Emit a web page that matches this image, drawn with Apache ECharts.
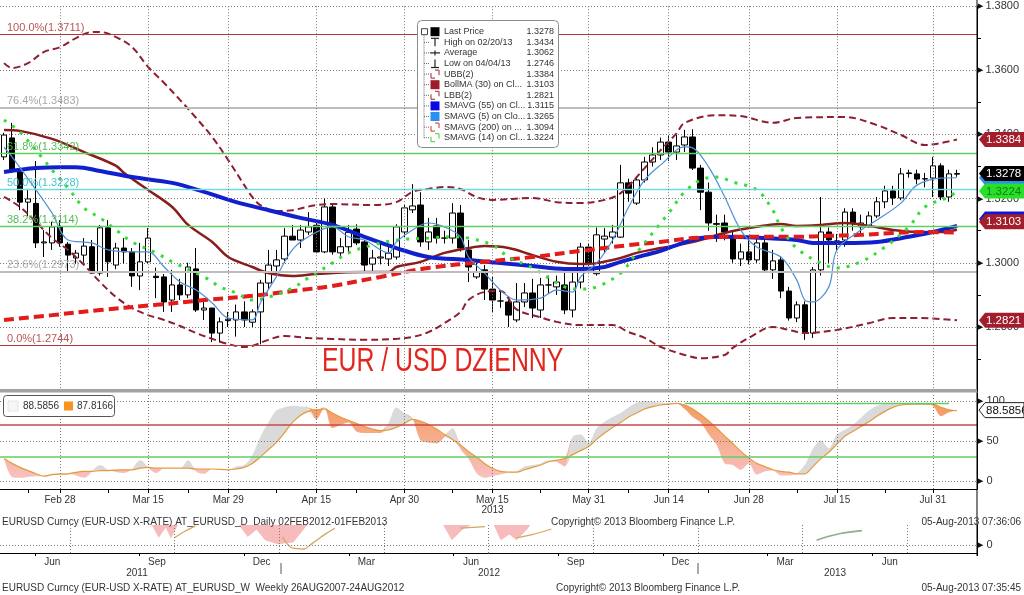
<!DOCTYPE html>
<html>
<head>
<meta charset="utf-8">
<title>EUR / USD DZIENNY</title>
<script src="https://cdn.jsdelivr.net/npm/echarts@6/dist/echarts.min.js"></script>
<style>
html,body{margin:0;padding:0;background:#ffffff;}
#chart{width:1024px;height:595px;}
</style>
</head>
<body>
<div id="chart"></div>
<script>
const FONT = "'Liberation Sans', Arial, 'DejaVu Sans', sans-serif";
const MONTHS = ['Jan','Feb','Mar','Apr','May','Jun','Jul','Aug','Sep','Oct','Nov','Dec'];

// ---------- categories: trading days (plus two empty slots on the right) ----------
const dayCategories = [];
(function () {
  const d = new Date(Date.UTC(2013, 1, 19));
  while (dayCategories.length < 122) {
    const wd = d.getUTCDay();
    if (wd !== 0 && wd !== 6) dayCategories.push(d.toISOString().slice(0, 10));
    d.setUTCDate(d.getUTCDate() + 1);
  }
})();
const xLabelDates = ['2013-02-28','2013-03-15','2013-03-29','2013-04-15','2013-04-30','2013-05-15','2013-05-31','2013-06-14','2013-06-28','2013-07-15','2013-07-31'];
const xMidTickDates = ['2013-02-22','2013-03-08','2013-03-22','2013-04-08','2013-04-22','2013-05-08','2013-05-23','2013-06-07','2013-06-21','2013-07-08','2013-07-23'];
const yearUnderDate = '2013-05-15';
const yearUnderText = '2013';

// ---------- daily price: [open, close, low, high] ----------
const priceOHLC = [
[1.3330,1.3398,1.3320,1.3405],[1.3389,1.3289,1.3280,1.3436],[1.3283,1.3189,1.3164,1.3290],[1.3189,1.3199,1.3145,1.3230],
[1.3185,1.3062,1.3046,1.3317],[1.3062,1.3065,1.3018,1.3102],[1.3062,1.3112,1.3040,1.3127],[1.3112,1.3062,1.3050,1.3133],
[1.3058,1.3024,1.2970,1.3065],[1.3015,1.3030,1.2998,1.3040],[1.3024,1.3052,1.3000,1.3077],[1.3050,1.2968,1.2965,1.3071],
[1.2968,1.3109,1.2960,1.3118],[1.3109,1.3003,1.2956,1.3133],[1.2993,1.3046,1.2980,1.3062],[1.3046,1.3034,1.2998,1.3077],
[1.3034,1.2959,1.2925,1.3046],[1.2959,1.3003,1.2915,1.3062],[1.3003,1.3077,1.2999,1.3108],[1.2958,1.2954,1.2890,1.2985],
[1.2956,1.2878,1.2847,1.2965],[1.2884,1.2931,1.2847,1.2978],[1.2931,1.2900,1.2884,1.2950],[1.2900,1.2987,1.2890,1.3000],
[1.2981,1.2853,1.2847,1.3046],[1.2853,1.2859,1.2822,1.2890],[1.2859,1.2781,1.2753,1.2860],[1.2781,1.2816,1.2752,1.2830],
[1.2820,1.2824,1.2800,1.2847],[1.2822,1.2847,1.2770,1.2870],[1.2847,1.2822,1.2800,1.2880],[1.2815,1.2847,1.2800,1.2855],
[1.2847,1.2937,1.2746,1.2947],[1.2937,1.2993,1.2915,1.3040],[1.2990,1.3009,1.2970,1.3040],[1.3012,1.3083,1.3000,1.3108],
[1.3083,1.3071,1.3071,1.3118],[1.3071,1.3102,1.3046,1.3118],[1.3096,1.3112,1.3087,1.3158],[1.3117,1.3034,1.3030,1.3133],
[1.3034,1.3174,1.3030,1.3200],[1.3174,1.3034,1.3025,1.3180],[1.3031,1.3050,1.3015,1.3077],[1.3050,1.3095,1.3028,1.3118],
[1.3105,1.3062,1.3055,1.3120],[1.3065,1.2993,1.2970,1.3071],[1.2996,1.3015,1.2975,1.3040],[1.3015,1.3018,1.2995,1.3062],
[1.3012,1.3030,1.2990,1.3050],[1.3018,1.3112,1.3010,1.3120],[1.3096,1.3171,1.3080,1.3180],[1.3165,1.3177,1.3155,1.3245],
[1.3180,1.3065,1.3050,1.3220],[1.3065,1.3096,1.3040,1.3140],[1.3115,1.3077,1.3060,1.3140],[1.3077,1.3077,1.3060,1.3100],
[1.3077,1.3155,1.3060,1.3186],[1.3155,1.3046,1.3035,1.3180],[1.3040,1.2987,1.2940,1.3071],[1.2956,1.2971,1.2950,1.3000],
[1.2978,1.2918,1.2884,1.2993],[1.2918,1.2884,1.2847,1.2956],[1.2881,1.2881,1.2860,1.2910],[1.2878,1.2837,1.2800,1.2893],
[1.2822,1.2878,1.2815,1.2937],[1.2878,1.2906,1.2862,1.2937],[1.2906,1.2859,1.2828,1.2950],[1.2853,1.2931,1.2828,1.2953],
[1.2931,1.2931,1.2905,1.2960],[1.2925,1.2940,1.2900,1.2960],[1.2931,1.2853,1.2840,1.2978],[1.2853,1.2940,1.2830,1.2975],
[1.2940,1.3049,1.2920,1.3062],[1.3049,1.2999,1.2990,1.3060],[1.2966,1.3087,1.2960,1.3110],[1.3074,1.3083,1.3030,1.3108],
[1.3080,1.3096,1.3060,1.3118],[1.3080,1.3249,1.3078,1.3305],[1.3249,1.3217,1.3190,1.3262],[1.3186,1.3258,1.3180,1.3270],
[1.3258,1.3314,1.3250,1.3330],[1.3314,1.3336,1.3300,1.3360],[1.3336,1.3376,1.3320,1.3390],[1.3376,1.3345,1.3317,1.3398],
[1.3345,1.3364,1.3320,1.3398],[1.3367,1.3392,1.3345,1.3414],[1.3392,1.3295,1.3289,1.3416],[1.3295,1.3220,1.3164,1.3305],
[1.3220,1.3124,1.3100,1.3250],[1.3122,1.3120,1.3065,1.3150],[1.3124,1.3096,1.3070,1.3150],[1.3077,1.3012,1.3000,1.3100],
[1.3012,1.3034,1.2990,1.3060],[1.3034,1.3009,1.2995,1.3080],[1.3009,1.3062,1.3000,1.3080],[1.3062,1.2978,1.2970,1.3080],
[1.2978,1.3006,1.2950,1.3040],[1.3009,1.2912,1.2890,1.3020],[1.2912,1.2828,1.2820,1.2925],[1.2828,1.2869,1.2815,1.2880],
[1.2869,1.2781,1.2760,1.2880],[1.2781,1.2978,1.2766,1.2987],[1.2978,1.3096,1.2960,1.3205],[1.3096,1.3071,1.3000,1.3110],
[1.3068,1.3068,1.3040,1.3090],[1.3071,1.3158,1.3050,1.3170],[1.3158,1.3124,1.3100,1.3170],[1.3112,1.3124,1.3090,1.3150],
[1.3112,1.3146,1.3110,1.3160],[1.3146,1.3190,1.3140,1.3205],[1.3190,1.3224,1.3170,1.3240],[1.3224,1.3202,1.3180,1.3240],
[1.3202,1.3277,1.3195,1.3295],[1.3280,1.3278,1.3265,1.3290],[1.3277,1.3261,1.3245,1.3290],[1.3261,1.3262,1.3235,1.3280],
[1.3264,1.3302,1.3205,1.3330],[1.3302,1.3205,1.3195,1.3310],[1.3205,1.3277,1.3190,1.3290],[1.3276,1.3278,1.3268,1.3290]
];

// ---------- studies: [dayIndex, value] ----------
const ubb = [[0,1.3622],[1,1.3607],[3,1.3622],[5,1.3657],[7,1.3672],[9,1.3700],[11,1.3719],[12,1.3719],[14,1.3703],[16,1.3672],[18,1.3610],[20,1.3560],[22,1.3507],[24,1.3451],[26,1.3392],[28,1.3320],[30,1.3242],[31,1.3205],[32,1.3180],[34,1.3161],[36,1.3164],[39,1.3180],[41,1.3183],[46,1.3180],[49,1.3189],[51,1.3221],[53,1.3230],[55,1.3236],[57,1.3230],[59,1.3205],[61,1.3196],[66,1.3202],[69,1.3189],[72,1.3186],[75,1.3196],[77,1.3217],[80,1.3295],[82,1.3351],[84,1.3404],[85,1.3436],[89,1.3460],[92,1.3457],[96,1.3436],[99,1.3451],[105,1.3454],[109,1.3429],[112,1.3398],[115,1.3367],[117,1.3373],[119,1.3384]];
const lbb = [[0,1.3205],[2,1.3174],[4,1.3127],[6,1.3077],[8,1.3040],[10,1.2993],[12,1.2940],[14,1.2893],[16,1.2859],[18,1.2837],[20,1.2822],[22,1.2803],[24,1.2781],[26,1.2763],[28,1.2747],[30,1.2738],[31,1.2741],[33,1.2760],[35,1.2772],[38,1.2766],[41,1.2763],[45,1.2760],[49,1.2763],[51,1.2769],[53,1.2784],[55,1.2812],[57,1.2847],[58,1.2884],[60,1.2909],[62,1.2912],[64,1.2855],[67,1.2830],[69,1.2816],[72,1.2806],[76,1.2806],[78,1.2784],[80,1.2766],[82,1.2738],[85,1.2713],[87,1.2703],[90,1.2713],[91,1.2735],[93,1.2766],[96,1.2800],[98,1.2791],[100,1.2781],[104,1.2791],[108,1.2812],[111,1.2828],[114,1.2828],[119,1.2821]];
const bollMA = [[0,1.3414],[2,1.3411],[6,1.3386],[10,1.3345],[14,1.3302],[15,1.3280],[18,1.3227],[21,1.3174],[23,1.3118],[26,1.3065],[28,1.3018],[31,1.2987],[33,1.2968],[36,1.2959],[39,1.2965],[45,1.2971],[48,1.2971],[49,1.2987],[52,1.3003],[55,1.3031],[58,1.3046],[60,1.3052],[63,1.3046],[66,1.3024],[69,1.3003],[72,1.2996],[74,1.2999],[77,1.3015],[79,1.3031],[82,1.3046],[86,1.3065],[90,1.3093],[94,1.3112],[97,1.3121],[99,1.3115],[102,1.3118],[105,1.3124],[108,1.3115],[111,1.3102],[114,1.3096],[117,1.3096],[119,1.3103]];
const sma55 = [[0,1.3283],[4,1.3295],[7,1.3298],[9,1.3298],[12,1.3286],[16,1.3267],[21,1.3249],[25,1.3221],[29,1.3189],[33,1.3164],[37,1.3140],[41,1.3118],[45,1.3081],[49,1.3046],[53,1.3018],[58,1.3009],[62,1.2999],[66,1.2990],[70,1.2981],[72,1.2981],[75,1.2987],[77,1.3003],[80,1.3024],[82,1.3037],[84,1.3055],[87,1.3077],[90,1.3081],[95,1.3077],[99,1.3071],[101,1.3062],[105,1.3062],[109,1.3065],[113,1.3081],[116,1.3096],[119,1.3115]];
const sma200 = [[0,1.2822],[6,1.2837],[12,1.2853],[19,1.2869],[25,1.2884],[31,1.2897],[37,1.2915],[41,1.2928],[47,1.2956],[53,1.2984],[60,1.3003],[66,1.3018],[72,1.3037],[78,1.3055],[82,1.3065],[86,1.3077],[92,1.3081],[99,1.3081],[103,1.3084],[107,1.3087],[111,1.3093],[115,1.3096],[119,1.3094]];
const sma14 = [[0,1.3445],[2,1.3407],[5,1.3320],[6,1.3289],[8,1.3233],[10,1.3171],[12,1.3140],[14,1.3102],[16,1.3065],[19,1.3031],[21,1.3003],[25,1.2956],[27,1.2925],[29,1.2906],[31,1.2884],[33,1.2893],[36,1.2921],[38,1.2953],[41,1.2999],[43,1.3031],[46,1.3055],[49,1.3071],[53,1.3077],[56,1.3081],[58,1.3077],[61,1.3055],[63,1.3018],[66,1.2984],[68,1.2953],[70,1.2925],[72,1.2918],[74,1.2925],[77,1.2968],[79,1.3031],[82,1.3124],[83,1.3155],[85,1.3221],[87,1.3258],[89,1.3267],[91,1.3252],[94,1.3227],[96,1.3164],[97,1.3110],[99,1.3045],[102,1.2999],[104,1.2984],[107,1.3003],[110,1.3049],[113,1.3112],[115,1.3174],[118,1.3205],[119,1.3224]];
const sma5 = [[0,1.3360],[1,1.3330],[4,1.3227],[6,1.3155],[8,1.3071],[11,1.3062],[13,1.3040],[16,1.3034],[18,1.3034],[20,1.2987],[22,1.2940],[24,1.2915],[26,1.2875],[28,1.2828],[31,1.2822],[32,1.2875],[34,1.2956],[36,1.3040],[38,1.3081],[41,1.3112],[43,1.3081],[45,1.3071],[48,1.3031],[49,1.3065],[51,1.3102],[53,1.3124],[55,1.3112],[57,1.3081],[58,1.3018],[60,1.2968],[62,1.2915],[64,1.2884],[67,1.2890],[69,1.2915],[71,1.2909],[72,1.2956],[74,1.2999],[76,1.3071],[78,1.3174],[80,1.3258],[82,1.3305],[85,1.3361],[86,1.3358],[88,1.3298],[90,1.3205],[92,1.3102],[94,1.3049],[97,1.3018],[99,1.2946],[100,1.2884],[101,1.2878],[103,1.2925],[104,1.3040],[107,1.3102],[109,1.3133],[112,1.3186],[114,1.3242],[117,1.3264],[119,1.3265]];

// ---------- fibonacci retracement ----------
const fibLevels = [1.3711, 1.3483, 1.3342, 1.3228, 1.3114, 1.2973, 1.2744];
const fibPercents = ['100.0%','76.4%','61.8%','50.0%','38.2%','23.6%','0.0%'];
const fibLineColors = ['#b33a3a','#bdbdbd','#5fcf5f','#6fdcdc','#5fcf5f','#bdbdbd','#b33a3a'];
const fibTextColors = ['#b85555','#a8a8a8','#55bb55','#44c4d0','#55bb55','#a8a8a8','#b85555'];
const fibWidths = [1, 2, 1.3, 1.3, 1.3, 2, 1];

// ---------- stochastic (lower panel) ----------
const stochIdx = [0,1,2,3,4,5,6,8,10,11,12,13,15,16,17,18,19,20,22,23,24,25,26,28,29,30,31,32,33,34,35,36,37,38,39,40,41,42,43,44,45,46,47,48,49,50,51,52,53,54,55,56,57,58,59,60,61,62,63,64,65,66,67,68,69,70,71,72,73,74,75,76,77,78,79,80,81,82,83,84,85,86,87,88,89,90,91,92,93,94,95,96,97,98,99,100,101,102,103,104,105,106,107,108,109,110,111,112,113,114,115,116,117,118,119];
const stochSlow = [28,22,17,13,9,6,8,9,12,12,13,13,14,14,16,17,16,16,16,16,15,15,15,14,15,17,22,30,39,48,60,73,82,87,89,90,85,80,76,72,68,65,63,64,67,72,77,75,71,65,58,52,45,37,30,22,16,12,11,11,14,17,20,24,26,28,33,38,43,52,60,67,73,80,85,90,93,95,96,97,95,90,83,75,66,56,47,37,29,22,18,14,12,11,9,9,18,28,36,46,56,62,68,74,81,87,92,95,96,96,96,96,92,89,87.8166];
const stochFast = [28,5,4,5,6,6,9,10,4,12,20,14,10,15,26,17,10,16,16,26,12,9,15,14,18,20,32,55,73,88,92,94,93,92,77,92,66,70,73,62,60,60,60,72,92,85,78,51,48,47,55,66,40,28,10,4,6,8,11,12,18,20,22,26,24,18,55,58,48,66,74,80,85,92,98,100,99,98,97,97,90,80,73,58,45,22,20,14,22,8,12,13,7,7,9,20,40,51,41,58,64,70,79,88,94,96,96,96,96,97,96,94,81,86,88.5856];
const stochUpperLevel = 70, stochLowerLevel = 30;
const stochTopLineValue = 96.7, stochTopLineFrom = '2013-06-18', stochTopLineTo = '2013-08-02';

// ---------- weekly chart remnant (bottom strip) ----------
const weeklyMonths = [];
(function () { let y = 2011, m = 5; while (weeklyMonths.length < 28) { weeklyMonths.push(y + '-' + String(m).padStart(2, '0')); m++; if (m > 12) { m = 1; y++; } } })();
const weeklyQuarterStarts = [2, 5, 8, 11, 14, 17, 20, 23, 26];   // months since May 2011
const weeklyPink = [
  [[4.35,25],[4.55,9],[4.75,22],[4.9,8],[5.1,25]],
  [[6.85,25],[7.1,10],[7.35,19],[7.6,6],[7.95,1],[8.4,3],[8.7,19],[8.8,25]],
  [[12.7,25],[12.95,6],[13.25,19],[13.5,25]],
  [[14.15,25],[14.35,6],[14.6,13],[14.8,6],[15.1,19],[15.2,25]]
];
const weeklyOlive = [
  [[5.0,9],[5.25,16],[5.6,24]],
  [[8.1,10],[8.4,-4],[8.7,-5],[8.95,2],[9.3,13],[9.6,21]],
  [[13.2,21],[13.9,23]],
  [[14.8,9],[15.25,13],[15.8,20]]
];
const weeklyGreen = [[23.4,6],[24.05,14],[24.7,18]];
const weeklyYears = ['2011','2012','2013'];

// ---------- legend / tags ----------
const legendNames = ['Last Price','High on 02/20/13','Average','Low on 04/04/13','UBB(2)','BollMA (30) on Cl...','LBB(2)','SMAVG (55) on Cl...','SMAVG (5) on Clo...','SMAVG (200) on ...','SMAVG (14) on Cl...'];
const legendValues = ['1.3278','1.3434','1.3062','1.2746','1.3384','1.3103','1.2821','1.3115','1.3265','1.3094','1.3224'];
const legendIcons = ['fill:#000000','high','avg','low','bracket:#a3202e','fill:#a01c28','bracket:#a3202e','fill:#0a0ae6','fill:#2b8ff0','bracket:#d23030','bracket:#3fcf3f'];
const tagValues = [1.3384, 1.3265, 1.3224, 1.3278, 1.3115, 1.3103, 1.2821];
const tagFills = ['#a31e2c','#2b8ff0','#27e027','#000000','#1414d8','#a31e2c','#a31e2c'];
const tagTextColors = ['#ffffff','#ffffff','#157a15','#ffffff','#ffffff','#ffffff','#ffffff'];
const tagShift = [0, 0, 0, 0, -7, -8, 0];
const stochTagValue = 88.5856;
const stochLegend = ['88.5856', '87.8166'];

// ---------- helpers ----------
const labelSet = new Set(xLabelDates);
const tickSet = new Set(xLabelDates.concat(xMidTickDates));
function fmtDay(v) {
  const s = MONTHS[+v.slice(5, 7) - 1] + ' ' + (+v.slice(8, 10));
  return v === yearUnderDate ? s + '\n' + yearUnderText : s;
}
const dotted = { type: [1, 2], color: '#777', width: 1 };
const vGrid = xLabelDates.map(d => ({ xAxis: d, lineStyle: dotted, label: { show: false } }));

const fibMarks = fibLevels.map((v, k) => ({
  yAxis: v,
  lineStyle: { color: fibLineColors[k], width: fibWidths[k], type: 'solid' },
  label: { show: true, position: 'insideStartTop', distance: [7, 1], formatter: fibPercents[k] + '(' + v.toFixed(4) + ')', color: fibTextColors[k], fontSize: 11, fontFamily: FONT }
}));

const stochBase = stochIdx.map((x, k) => [x, Math.min(stochFast[k], stochSlow[k])]);
const stochUp = stochIdx.map((x, k) => [x, Math.max(stochFast[k] - stochSlow[k], 0)]);
const stochDown = stochIdx.map((x, k) => [x, Math.max(stochSlow[k] - stochFast[k], 0)]);

function lineSeries(name, data, style, z) {
  return { name, type: 'line', xAxisIndex: 0, yAxisIndex: 0, data, symbol: 'none', smooth: 0.35, silent: true, z: z || 3, lineStyle: style };
}

const GL = -3.3, GW = 980.3;
const axisBlack = { show: true, onZero: false, lineStyle: { color: '#000', width: 1 } };

const option = {
  animation: false,
  backgroundColor: '#ffffff',
  textStyle: { fontFamily: FONT },
  grid: [
    { left: GL, width: GW, top: 6, height: 385.2 },
    { left: GL, width: GW, top: 393, height: 96 },
    { left: -3.5, width: 980.5, top: 525, height: 28 }
  ],
  xAxis: [
    { type: 'category', gridIndex: 0, data: dayCategories, boundaryGap: true, axisLine: { show: false, onZero: false }, axisTick: { show: false }, axisLabel: { show: false }, splitLine: { show: false } },
    { type: 'category', gridIndex: 1, data: dayCategories, boundaryGap: true,
      axisLine: axisBlack,
      axisTick: { show: true, alignWithLabel: true, length: 4, interval: (i, v) => tickSet.has(v), lineStyle: { color: '#000' } },
      axisLabel: { interval: (i, v) => labelSet.has(v), formatter: fmtDay, fontSize: 10, color: '#333', margin: 6, lineHeight: 10 },
      splitLine: { show: false } },
    { type: 'category', gridIndex: 2, data: weeklyMonths, boundaryGap: true,
      axisLine: axisBlack,
      axisTick: { show: true, length: 3, lineStyle: { color: '#000' } },
      axisLabel: { interval: (i, v) => [3, 6, 9, 12].indexOf(+v.slice(5, 7)) >= 0, formatter: v => MONTHS[+v.slice(5, 7) - 1], fontSize: 10, color: '#333', margin: 4 },
      splitLine: { show: false } },
    { type: 'value', gridIndex: 2, min: 0, max: 28, show: false, axisLine: { show: false, onZero: false } }
  ],
  yAxis: [
    { type: 'value', gridIndex: 0, position: 'right', min: 1.26, max: 1.38, interval: 0.02,
      axisLine: axisBlack,
      axisTick: { show: false },
      minorTick: { show: true, splitNumber: 2, length: 4, lineStyle: { color: '#000' } },
      axisLabel: { margin: 1, fontSize: 11, color: '#333', formatter: v => (v < 1.27 ? '' : '{t|▶}' + v.toFixed(4)), rich: { t: { fontSize: 7, color: '#111', padding: [0, 2, 0, 0] } } },
      splitLine: { show: true, lineStyle: dotted } },
    { type: 'value', gridIndex: 1, position: 'right', min: -10, max: 110, interval: 10,
      axisLine: axisBlack,
      axisTick: { show: false },
      axisLabel: { margin: 1, fontSize: 11, color: '#333', formatter: v => ((v === 0 || v === 50 || v === 100) ? '{t|▶} ' + v : ''), rich: { t: { fontSize: 7, color: '#111' } } },
      splitLine: { show: false } },
    { type: 'value', gridIndex: 2, position: 'right', min: -10, max: 25, interval: 5,
      axisLine: axisBlack,
      axisTick: { show: false },
      axisLabel: { margin: 1, fontSize: 11, color: '#333', formatter: v => (v === 0 ? '{t|▶} 0' : ''), rich: { t: { fontSize: 7, color: '#111' } } },
      splitLine: { show: false } }
  ],
  series: [
    { name: 'marks0', type: 'line', xAxisIndex: 0, yAxisIndex: 0, data: [], z: 1, silent: true,
      markLine: { symbol: 'none', silent: true, animation: false, precision: 6, data: fibMarks.concat(vGrid) } },
    { name: 'Last Price', type: 'candlestick', xAxisIndex: 0, yAxisIndex: 0, data: priceOHLC, barWidth: 6, z: 2, silent: true,
      itemStyle: { color: '#ffffff', color0: '#000000', borderColor: '#000000', borderColor0: '#000000', borderWidth: 1 } },
    lineSeries('BollMA (30)', bollMA, { color: '#8a1c1c', width: 2.5 }),
    lineSeries('UBB(2)', ubb, { color: '#8d1f32', width: 2, type: [7, 4] }),
    lineSeries('LBB(2)', lbb, { color: '#8d1f32', width: 2, type: [7, 4] }),
    lineSeries('SMAVG (55)', sma55, { color: '#1020cc', width: 4 }),
    lineSeries('SMAVG (200)', sma200, { color: '#e21b1b', width: 4, type: [10, 5] }),
    lineSeries('SMAVG (14)', sma14, { color: '#33dd33', width: 3, type: [3, 7] }),
    lineSeries('SMAVG (5)', sma5, { color: '#4f8fd6', width: 1.2 }),

    { name: 'stBase', type: 'line', xAxisIndex: 1, yAxisIndex: 1, data: stochBase, stack: 'st', symbol: 'none', smooth: 0.3, silent: true, z: 1, lineStyle: { opacity: 0 } },
    { name: 'stUp', type: 'line', xAxisIndex: 1, yAxisIndex: 1, data: stochUp, stack: 'st', symbol: 'none', smooth: 0.3, silent: true, z: 1, lineStyle: { opacity: 0 }, areaStyle: { color: '#dadada', opacity: 1 } },
    { name: 'stDown', type: 'line', xAxisIndex: 1, yAxisIndex: 1, data: stochDown, stack: 'st', symbol: 'none', smooth: 0.3, silent: true, z: 1, lineStyle: { opacity: 0 },
      areaStyle: { opacity: 1, color: new echarts.graphic.LinearGradient(0, 0, 0, 1, [{ offset: 0, color: '#f49a5e' }, { offset: 1, color: '#f8c0c0' }]) } },
    { name: 'marks1', type: 'line', xAxisIndex: 1, yAxisIndex: 1, data: [], z: 2, silent: true,
      markLine: { symbol: 'none', silent: true, animation: false, precision: 4, label: { show: false },
        data: [
          { yAxis: 0, lineStyle: dotted }, { yAxis: 50, lineStyle: dotted }, { yAxis: 100, lineStyle: dotted },
          { yAxis: stochUpperLevel, lineStyle: { color: '#c84848', width: 1.6, type: 'solid' } },
          { yAxis: stochLowerLevel, lineStyle: { color: '#66cc66', width: 1.6, type: 'solid' } },
          [{ coord: [stochTopLineFrom, stochTopLineValue], lineStyle: { color: '#66cc66', width: 1.4, type: 'solid' } }, { coord: [stochTopLineTo, stochTopLineValue] }]
        ].concat(vGrid) } },
    { name: 'Slow', type: 'line', xAxisIndex: 1, yAxisIndex: 1, data: stochIdx.map((x, k) => [x, stochSlow[k]]), symbol: 'none', smooth: 0.3, silent: true, z: 3, lineStyle: { color: '#e59a3c', width: 1.2 } },

    { name: 'marks2', type: 'line', xAxisIndex: 3, yAxisIndex: 2, data: [], z: 1, silent: true,
      markLine: { symbol: 'none', silent: true, animation: false, precision: 4, label: { show: false },
        data: [{ yAxis: 0, lineStyle: dotted }].concat(weeklyQuarterStarts.map(m => ({ xAxis: m, lineStyle: dotted }))) } }
  ]
};

weeklyPink.forEach((d, k) => option.series.push({ name: 'wp' + k, type: 'line', xAxisIndex: 3, yAxisIndex: 2, data: d, symbol: 'none', silent: true, z: 2, lineStyle: { opacity: 0 }, areaStyle: { origin: 'end', color: '#f7b4b4', opacity: 0.9 } }));
weeklyOlive.forEach((d, k) => option.series.push({ name: 'wo' + k, type: 'line', xAxisIndex: 3, yAxisIndex: 2, data: d, symbol: 'none', smooth: 0.4, silent: true, z: 3, lineStyle: { color: '#d0a860', width: 1.3 } }));
option.series.push({ name: 'wg', type: 'line', xAxisIndex: 3, yAxisIndex: 2, data: weeklyGreen, symbol: 'none', smooth: 0.4, silent: true, z: 3, lineStyle: { color: '#8fae8f', width: 1.6 } });

const chart = echarts.init(document.getElementById('chart'), null, { renderer: 'canvas' });
chart.setOption(option);

// ---------- graphics (legend, tags, captions) ----------
const G = [];
function txt(x, y, text, opt) {
  opt = opt || {};
  G.push({ type: 'text', z: opt.z || 110, x: x, y: y, scaleX: opt.scaleX || 1,
    style: { text: text, fill: opt.color || '#333', fontSize: opt.size || 10, fontFamily: opt.family || FONT, textAlign: opt.align || 'left', textVerticalAlign: 'middle', verticalAlign: 'middle', fontWeight: opt.weight || 'normal' } });
}
function ln(x1, y1, x2, y2, color, w, dash, z) {
  G.push({ type: 'line', z: z || 110, shape: { x1, y1, x2, y2 }, style: { stroke: color, lineWidth: w || 1, lineDash: dash || null } });
}

// right axis line through all panels + separator
ln(977, 0, 977, 556, '#000', 1, null, 90);
G.push({ type: 'rect', z: 90, shape: { x: 0, y: 389, width: 977, height: 3.5 }, style: { fill: '#a3a3a3' } });

// big title
txt(322, 362, 'EUR / USD DZIENNY', { size: 34, color: '#e3261d', scaleX: 0.73, z: 95 });

// legend box
G.push({ type: 'rect', z: 105, shape: { x: 417.5, y: 20.5, width: 141, height: 127, r: 4 }, style: { fill: '#ffffff', stroke: '#8c8c8c', lineWidth: 1 } });
const rowY = k => 31.7 + 10.6 * k;
ln(424, rowY(0) + 3, 424, rowY(10), '#666', 1, [1, 1]);
G.push({ type: 'rect', z: 111, shape: { x: 421.5, y: rowY(0) - 3, width: 6, height: 6 }, style: { fill: '#fff', stroke: '#444', lineWidth: 1 } });
ln(422.5, rowY(0), 426.5, rowY(0), '#444', 1);
legendNames.forEach((name, k) => {
  const y = rowY(k);
  if (k > 0) ln(424, y, 429, y, '#666', 1, [1, 1]);
  const ic = legendIcons[k];
  if (ic.indexOf('fill:') === 0) {
    G.push({ type: 'rect', z: 111, shape: { x: 430.5, y: y - 4.5, width: 9, height: 9 }, style: { fill: ic.slice(5), stroke: null } });
  } else if (ic.indexOf('bracket:') === 0) {
    const c = ic.slice(8);
    G.push({ type: 'polyline', z: 111, shape: { points: [[431, y - 1], [431, y + 4], [435, y + 4]] }, style: { stroke: c, lineWidth: 1, fill: null } });
    G.push({ type: 'polyline', z: 111, shape: { points: [[435, y - 4], [439, y - 4], [439, y + 1]] }, style: { stroke: c, lineWidth: 1, fill: null } });
  } else if (ic === 'high') {
    ln(431, y - 4, 439, y - 4, '#222', 1.2); ln(435, y - 4, 435, y + 4, '#222', 1.2);
  } else if (ic === 'low') {
    ln(431, y + 4, 439, y + 4, '#222', 1.2); ln(435, y - 4, 435, y + 4, '#222', 1.2);
  } else if (ic === 'avg') {
    ln(430, y, 440, y, '#222', 1.2); ln(435, y - 2.5, 435, y + 2.5, '#222', 1.2);
  }
  txt(444, y, name, { size: 9, color: '#333', z: 112 });
  txt(554, y, legendValues[k], { size: 9, color: '#333', align: 'right', z: 112 });
});

// stochastic legend box
G.push({ type: 'rect', z: 105, shape: { x: 3.5, y: 395.5, width: 111, height: 21, r: 3 }, style: { fill: '#ffffff', stroke: '#555', lineWidth: 1 } });
G.push({ type: 'rect', z: 106, shape: { x: 8, y: 401, width: 10, height: 10 }, style: { fill: '#f6f6f6', stroke: '#e4e4e4', lineWidth: 1 } });
txt(23, 406.5, stochLegend[0], { size: 10, color: '#333' });
G.push({ type: 'rect', z: 106, shape: { x: 64, y: 401.5, width: 9, height: 9 }, style: { fill: '#f7941d' } });
txt(77, 406.5, stochLegend[1], { size: 10, color: '#333' });

// footers / captions
txt(2, 522, 'EURUSD Curncy (EUR-USD X-RATE) AT_EURUSD_D  Daily 02FEB2012-01FEB2013', { size: 10 });
txt(551, 522, 'Copyright\u00a9 2013 Bloomberg Finance L.P.', { size: 10 });
txt(1021, 522, '05-Aug-2013 07:36:06', { size: 10, align: 'right' });
txt(2, 588, 'EURUSD Curncy (EUR-USD X-RATE) AT_EURUSD_W  Weekly 26AUG2007-24AUG2012', { size: 10 });
txt(556, 588, 'Copyright\u00a9 2013 Bloomberg Finance L.P.', { size: 10 });
txt(1021, 588, '05-Aug-2013 07:35:45', { size: 10, align: 'right' });
[137, 489, 835].forEach((x, k) => txt(x, 573.5, weeklyYears[k], { size: 10, align: 'center' }));
ln(281, 563, 281, 574, '#555', 1);
ln(698, 563, 698, 574, '#555', 1);

// price tags on the right (later tags drawn above earlier ones)
let tagZ = 120;
function tag(y, fill, stroke, text, color) {
  G.push({ type: 'polygon', z: tagZ, shape: { points: [[979, y], [985, y - 7.5], [1024, y - 7.5], [1024, y + 7.5], [985, y + 7.5]] }, style: { fill: fill, stroke: stroke || null, lineWidth: 1 } });
  txt(986, y + 0.5, text, { size: 11.5, color: color, z: tagZ + 1 });
  tagZ += 2;
}
tagValues.forEach((v, k) => {
  const y = chart.convertToPixel({ yAxisIndex: 0 }, v) + tagShift[k];
  tag(y, tagFills[k], null, v.toFixed(4), tagTextColors[k]);
});
tag(chart.convertToPixel({ yAxisIndex: 1 }, stochTagValue), '#ffffff', '#222', stochTagValue.toFixed(4), '#111');

chart.setOption({ graphic: G });
</script>
</body>
</html>
